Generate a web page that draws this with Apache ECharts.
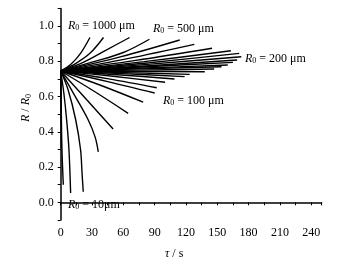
<!DOCTYPE html>
<html>
<head>
<meta charset="utf-8">
<script src="https://cdn.jsdelivr.net/npm/echarts@6/dist/echarts.min.js"></script>
<style>
  html, body { margin: 0; padding: 0; background: #fff; }
  #chart { width: 357px; height: 273px; }
</style>
</head>
<body>
<div id="chart"></div>
<script>
// curves that rise (large R0), [tau (s), R/R0]
const upCurves = [
  [[0, 0.745], [10, 0.785], [19, 0.845], [28, 0.935]],
  [[0, 0.745], [15, 0.79], [28, 0.845], [41, 0.935]],
  [[0, 0.745], [22, 0.795], [44, 0.865], [66, 0.935]],
  [[0, 0.745], [30, 0.795], [60, 0.85], [85, 0.925]],
  [[0, 0.745], [57, 0.825], [114, 0.921]],
  [[0, 0.745], [64, 0.815], [128, 0.896]],
  [[0, 0.745], [72, 0.805], [145, 0.874]],
  [[0, 0.745], [80, 0.798], [163, 0.86]],
  [[0, 0.745], [85, 0.792], [171, 0.845]],
  [[0, 0.745], [86, 0.784], [173, 0.826]],
  [[0, 0.745], [85, 0.775], [169, 0.807]],
  [[0, 0.745], [82, 0.769], [165, 0.794]],
  [[0, 0.745], [80, 0.762], [160, 0.779]],
  [[0, 0.745], [77, 0.757], [154, 0.769]],
  [[0, 0.745], [73, 0.75], [147, 0.756]],
  [[0, 0.745], [69, 0.743], [138, 0.741]]
];
// curves that shrink (small R0)
const downCurves = [
  [[0, 0.745], [62, 0.736], [123.5, 0.726]],
  [[0, 0.745], [59, 0.73], [118.7, 0.713]],
  [[0, 0.745], [54, 0.724], [109, 0.70]],
  [[0, 0.745], [50, 0.715], [100, 0.681]],
  [[0, 0.745], [46, 0.70], [92, 0.65]],
  [[0, 0.745], [45, 0.685], [90, 0.62]],
  [[0, 0.745], [40, 0.66], [79, 0.568]],
  [[0, 0.745], [32, 0.63], [64.6, 0.505]],
  [[0, 0.745], [26, 0.575], [50.2, 0.416]],
  [[0, 0.745], [14, 0.60], [26.4, 0.467], [33, 0.37], [36, 0.286]],
  [[0, 0.745], [7, 0.64], [14.3, 0.47], [19, 0.30], [20.5, 0.16], [21.6, 0.06]],
  [[0, 0.745], [3, 0.62], [5.7, 0.467], [7.9, 0.30], [9.5, 0.053]],
  [[0, 0.745], [0.6, 0.5], [1.2, 0.3], [2.5, 0.10]],
  [[0, 0.745], [0.3, 0.5], [0.5, 0.31]]
];
// curve labels: text after "R0", left x, centre y (px)
const curveLabels = [
  { t: ' = 1000 μm', x: 68, y: 26 },
  { t: ' = 500 μm', x: 153, y: 29 },
  { t: ' = 200 μm', x: 245, y: 59 },
  { t: ' = 100 μm', x: 163, y: 101 },
  { t: ' = 10μm', x: 68, y: 205 }
];

const FONT = '"Liberation Serif", "DejaVu Serif", serif';
const rich = {
  i: { fontFamily: FONT, fontSize: 12, fontStyle: 'italic', lineHeight: 14, fill: '#000' },
  s: { fontFamily: FONT, fontSize: 8, lineHeight: 14, padding: [5, 0, 0, 0], fill: '#000' },
  n: { fontFamily: FONT, fontSize: 12, lineHeight: 14, fill: '#000' }
};

const chart = echarts.init(document.getElementById('chart'));

const series = upCurves.concat(downCurves).map(c => ({
  type: 'line',
  data: c,
  smooth: 0.35,
  showSymbol: false,
  silent: true,
  lineStyle: { color: '#000', width: 1.4 }
}));

const graphic = curveLabels.map(l => ({
  type: 'text',
  left: l.x,
  top: l.y - 7,
  style: { text: '{i|R}{s|0}{n|' + l.t + '}', rich: rich }
}));
// y axis title, rotated
graphic.push({
  type: 'text',
  x: 19,
  y: 122,
  rotation: Math.PI / 2,
  style: { text: '{i|R}{n| / }{i|R}{s|0}', rich: rich }
});
graphic.push({
  type: 'text',
  left: 165,
  top: 248,
  style: { text: '{i|τ}{n| / s}', rich: rich }
});

chart.setOption({
  animation: false,
  grid: { left: 60.7, right: 35.3, top: 8.4, bottom: 53 },
  xAxis: {
    type: 'value', min: 0, max: 250, interval: 15,
    splitLine: { show: false },
    axisLine: { lineStyle: { color: '#000', width: 1.5 } },
    axisTick: { length: 3, lineStyle: { color: '#000' } },
    axisLabel: {
      margin: 7, color: '#000', fontFamily: FONT, fontSize: 12,
      formatter: v => (Math.round(v) % 30 === 0 ? String(Math.round(v)) : '')
    }
  },
  yAxis: {
    type: 'value', min: -0.1, max: 1.1, interval: 0.1,
    splitLine: { show: false },
    axisLine: { show: true, lineStyle: { color: '#000', width: 1.5 } },
    axisTick: { show: true, length: 3, lineStyle: { color: '#000' } },
    axisLabel: {
      margin: 7, color: '#000', fontFamily: FONT, fontSize: 12,
      formatter: v => {
        const k = Math.round(v * 10);
        return (k % 2 === 0 && k >= 0 && k <= 10) ? (k / 10).toFixed(1) : '';
      }
    }
  },
  series: series,
  graphic: graphic
});
</script>
</body>
</html>
